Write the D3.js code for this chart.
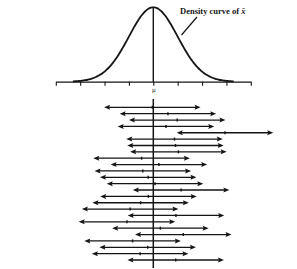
<!DOCTYPE html>
<html>

<head>
    <meta charset="UTF-8">
    <style>
        body { margin: 0; background: #fff; }
    </style>
</head>

<body>
    <script src="https://d3js.org/d3.v7.min.js"></script>
    <div id="chart"></div>
    <script>
        // sample means in units of sigma away from mu, top row first
        const sampleMeans = [-0.04, 0.6, 0.98, 0.52, 2.94, 0.87, 0.91, 1.03, -0.48, 0.23, -0.43, -0.21, 0.07,
            1.14, -0.2, -0.52, -0.95, 0.93, -1.08, 0.29, 1.23, -0.85, -0.23, -0.54, 0.92];
        const halfWidth = [1.98]; // margin of error, in sigma units
        const tickValues = [-4, -3, -2, -1, 0, 1, 2, 3, 4];
        const tickLabels = ["", "", "", "", "\u03bc", "", "", "", ""];
        const curveLabel = "Density curve of ";

        const width = 297, height = 269;
        const ink = "#151515";

        const svg = d3.select("#chart")
            .append("svg")
            .attr("width", width)
            .attr("height", height);

        // X scale shared by curve and intervals
        const x = d3.scaleLinear()
            .domain([-4, 4])
            .range([55.8, 250.8]);

        const dnorm = z => Math.exp(-z * z / 2) / Math.sqrt(2 * Math.PI);

        const y = d3.scaleLinear()
            .domain([0, dnorm(0)])
            .range([81.7, 7.3]);

        // density curve
        const pts = d3.range(-3.3, 3.3001, 0.05);
        svg.append("path")
            .datum(pts)
            .attr("fill", "none")
            .attr("stroke", ink)
            .attr("stroke-width", 1.8)
            .attr("d", d3.line().x(d => x(d)).y(d => y(dnorm(d))).curve(d3.curveBasis));

        // axis with ticks going down
        const axis = svg.append("g")
            .attr("transform", `translate(0, ${y(0)})`)
            .call(d3.axisBottom(x).tickValues(tickValues).tickSize(4).tickSizeOuter(0)
                .tickFormat((d, i) => tickLabels[i]));
        axis.select(".domain").attr("stroke", ink).attr("stroke-width", 1.3);
        axis.selectAll(".tick line").attr("stroke", ink).attr("stroke-width", 1.1);
        axis.selectAll(".tick text")
            .attr("fill", ink)
            .attr("y", 5)
            .style("font-family", "Liberation Serif")
            .style("font-size", "7px");

        // vertical line at mu under the curve
        svg.append("line")
            .attr("x1", x(0)).attr("x2", x(0))
            .attr("y1", y(dnorm(0))).attr("y2", y(0))
            .attr("stroke", ink).attr("stroke-width", 1.4);

        // label + pointer
        const lab = svg.append("text")
            .attr("x", 180)
            .attr("y", 14)
            .attr("fill", ink)
            .style("font-family", "Liberation Serif")
            .style("font-weight", "bold")
            .style("font-size", "8.5px")
            .text(curveLabel);
        lab.append("tspan")
            .style("font-style", "italic")
            .text("x\u0304");

        svg.append("line")
            .attr("x1", 197).attr("y1", 17)
            .attr("x2", 181.5).attr("y2", 35)
            .attr("stroke", ink).attr("stroke-width", 1.2);

        // intervals
        const row = d3.scalePoint()
            .domain(d3.range(sampleMeans.length))
            .range([107.3, 260]);

        svg.append("line")
            .attr("x1", x(0)).attr("x2", x(0))
            .attr("y1", 99).attr("y2", 268)
            .attr("stroke", ink).attr("stroke-width", 1.5);

        const h = halfWidth[0];
        const g = svg.append("g");
        const rows = g.selectAll("g.ci")
            .data(sampleMeans)
            .enter()
            .append("g")
            .attr("class", "ci")
            .attr("transform", (d, i) => `translate(0, ${row(i)})`);

        rows.append("line")
            .attr("x1", d => x(d - h) + 3)
            .attr("x2", d => x(d + h) - 3)
            .attr("stroke", ink)
            .attr("stroke-width", 1.3);

        // arrowheads
        rows.append("path")
            .attr("fill", ink)
            .attr("d", d => {
                const l = x(d - h);
                return `M${l},0 L${l + 6},-2.5 L${l + 5},0 L${l + 6},2.5 Z`;
            });
        rows.append("path")
            .attr("fill", ink)
            .attr("d", d => {
                const r = x(d + h);
                return `M${r},0 L${r - 6},-2.5 L${r - 5},0 L${r - 6},2.5 Z`;
            });

        // sample mean marks
        rows.append("line")
            .attr("x1", d => x(d)).attr("x2", d => x(d))
            .attr("y1", -1.5).attr("y2", 1.5)
            .attr("stroke", ink)
            .attr("stroke-width", 1.4);
    </script>
</body>

</html>
